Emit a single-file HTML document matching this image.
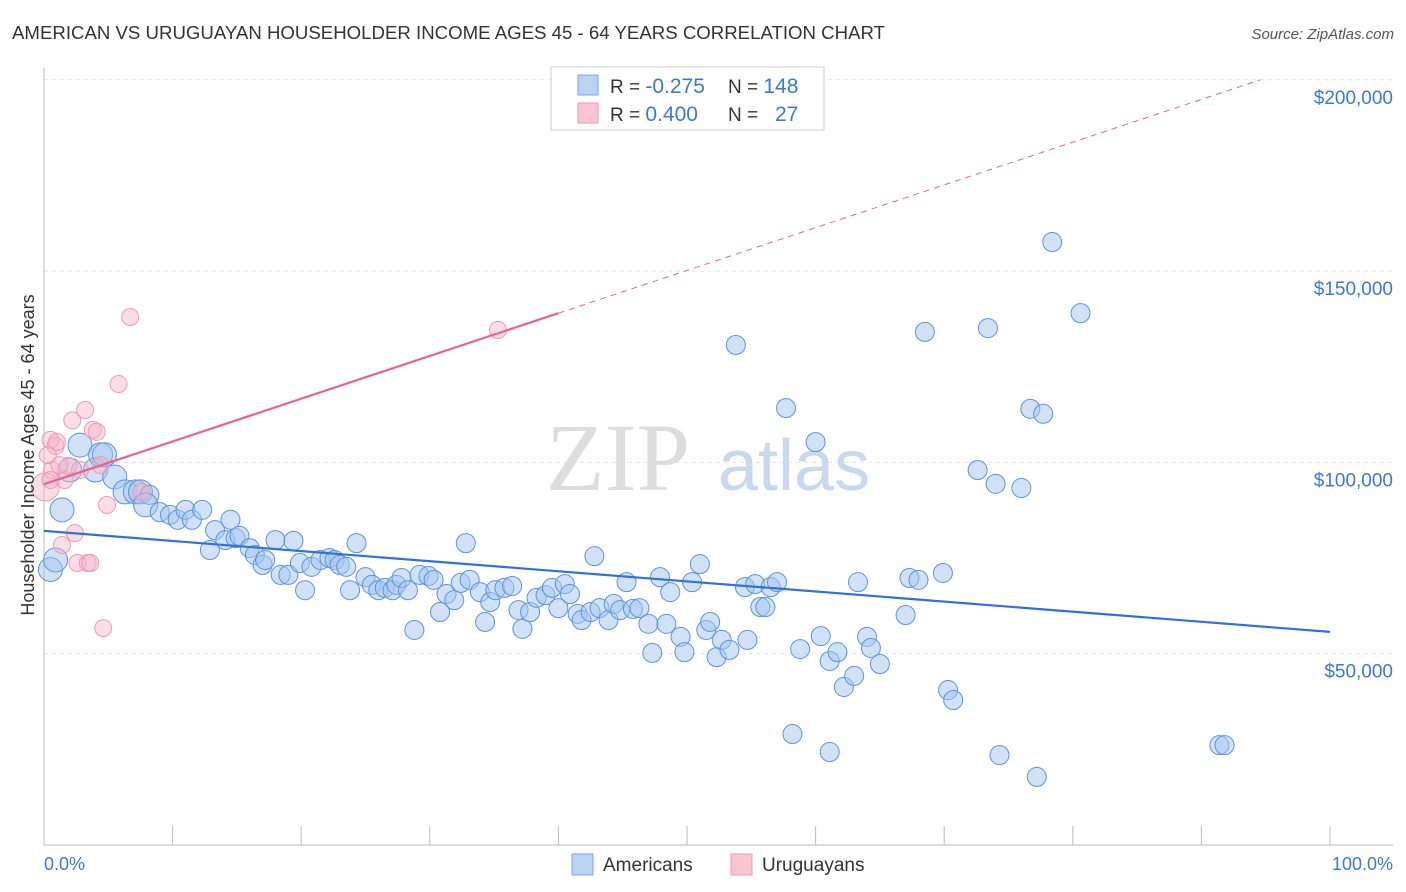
<!DOCTYPE html>
<html><head><meta charset="utf-8">
<style>
body{margin:0;background:#fff;font-family:"Liberation Sans",Arial,sans-serif;}
svg{display:block}
</style></head>
<body>
<svg id="chart" width="1406" height="892">
<text x="12" y="39" font-size="18" fill="#333" textLength="873" lengthAdjust="spacingAndGlyphs">AMERICAN VS URUGUAYAN HOUSEHOLDER INCOME AGES 45 - 64 YEARS CORRELATION CHART</text>
<text x="1394" y="39" font-size="15" fill="#555" font-style="italic" text-anchor="end">Source: ZipAtlas.com</text>
<g id="grid"></g>
<text x="690" y="490" font-size="96" fill="#ddd" font-family="Liberation Serif,serif" text-anchor="end">ZIP</text>
<text x="718" y="490" font-size="72" fill="#c8d8ee">atlas</text>
<g id="pts"></g>
<g id="lines"></g>
<text x="34" y="455" font-size="18" fill="#333" text-anchor="middle" transform="rotate(-90 34 455)">Householder Income Ages 45 - 64 years</text>
<text x="44" y="870" font-size="18" fill="#3a78d8">0.0%</text>
<text x="1393" y="870" font-size="18" fill="#3a78d8" text-anchor="end">100.0%</text>
<g>
<rect x="551" y="67" width="273" height="63" fill="#fff" stroke="#ccc"/>
<rect x="578" y="75" width="20" height="20" fill="#b9d3f5" stroke="#7aa6e6"/>
<rect x="578" y="103" width="20" height="20" fill="#f9c5d3" stroke="#ee9ab2"/>
<text x="610" y="93" font-size="19" fill="#333">R = <tspan fill="#3a78d8" font-size="21">-0.275</tspan><tspan x="728">N = </tspan><tspan fill="#3a78d8" font-size="21">148</tspan></text>
<text x="610" y="121" font-size="19" fill="#333">R = <tspan fill="#3a78d8" font-size="21">0.400</tspan><tspan x="728">N = </tspan><tspan x="775" fill="#3a78d8" font-size="21">27</tspan></text>
</g>
<g>
<rect x="572" y="854" width="21" height="21" fill="#b9d3f5" stroke="#7aa6e6"/>
<text x="603" y="871" font-size="19" fill="#333">Americans</text>
<rect x="731" y="854" width="21" height="21" fill="#f9c5d3" stroke="#ee9ab2"/>
<text x="762" y="871" font-size="19" fill="#333">Uruguayans</text>
</g>
</svg>
<script>
const yTicks=[50000,100000,150000,200000];
const yTickLabels=["$50,000","$100,000","$150,000","$200,000"];
const xTicks=[0,10,20,30,40,50,60,70,80,90,100];
const amX=[0.5,0.9,1.4,2.0,2.8,4.0,4.4,4.7,5.5,6.3,7.1,7.5,8.2,7.9,9.0,9.8,10.4,11.0,11.5,12.3,12.9,13.3,14.1,14.5,14.9,15.2,16.0,16.4,17.0,17.2,18.0,18.4,19.0,19.4,19.9,20.3,20.8,21.5,22.2,22.6,23.0,23.5,23.8,24.3,25.0,25.5,26.0,26.5,27.1,27.4,27.8,28.3,28.8,29.2,29.9,30.3,30.8,31.3,31.9,32.4,32.8,33.1,33.9,34.3,34.7,35.1,35.8,36.4,36.9,37.2,37.8,38.3,39.0,39.5,40.0,40.5,40.9,41.5,41.8,42.5,42.8,43.2,43.9,44.3,44.8,45.3,45.8,46.3,47.0,47.3,47.9,48.4,48.7,49.5,49.8,50.4,51.0,51.5,51.8,52.3,52.7,53.3,53.8,54.5,54.7,55.3,55.7,56.1,56.5,57.0,57.7,58.2,58.8,60.0,60.4,61.1,61.1,61.7,62.2,63.0,63.3,64.0,64.3,65.0,67.0,67.3,68.0,68.5,69.9,70.3,70.7,72.6,73.4,74.0,74.3,76.0,76.7,77.2,77.7,78.4,80.6,91.4,91.8];
const amY=[72,74.5,87.6,98,104.5,98,102,102,96.2,92.3,92.3,92.3,91.5,88.9,87,86.3,85,87.6,85,87.6,77.1,82.3,79.7,85,80.2,80.8,77.6,75.8,73.2,74.5,79.7,70.6,70.6,79.5,73.7,66.6,72.7,74.5,75,74.5,73.2,72.7,66.6,78.9,70,68,66.6,67.2,66.6,68,69.8,66.6,56.2,70.6,70.3,69.3,60.9,65.6,64,68.5,78.9,69.3,66.1,58.3,63.5,66.6,67.2,67.7,61.4,56.5,60.9,64.6,65.3,67.2,61.9,68.2,65.6,60.4,58.8,60.9,75.5,61.9,58.8,63,61.4,68.7,61.7,61.9,57.8,50.2,70,57.8,66.1,54.4,50.4,68.7,73.4,56.2,58.3,49.1,53.6,51,130.7,67.4,53.6,68.2,62.2,62.2,67.4,68.7,114.2,29,51.2,105.3,54.6,48.1,24.3,50.4,41.3,44.2,68.7,54.4,51.5,47.3,60.1,69.8,69.3,134.1,71.1,40.5,37.9,98,135.1,94.4,23.5,93.3,114,17.8,112.7,157.6,139,26.1,26.1];
const urX=[0.1,0.5,0.6,0.9,1.0,1.4,1.6,1.9,2.2,2.4,2.6,3.2,3.4,3.6,3.8,4.1,4.6,4.9,5.8,6.7,7.6,35.3,1.2,4.4,0.5,2.8,0.3];
const urY=[93.6,105.9,98,104.3,105.3,78.4,95.4,99.1,111,81.5,73.7,113.7,73.7,73.7,108.5,108,56.7,88.9,120.5,138,92.3,134.6,99.3,99.3,95.4,98,101.9];
const amTrend=[82.1,55.7];
const urTrend=[94.3,139.0];
const urSolidEnd=40;

const NS="http://www.w3.org/2000/svg";
const X=p=>44+p*12.86, Y=v=>845-v*0.003826;
const Yk=k=>Y(k*1000);
function mk(tag,at,parent){const e=document.createElementNS(NS,tag);for(const k in at)e.setAttribute(k,at[k]);parent.appendChild(e);return e;}
const grid=document.getElementById('grid'),pts=document.getElementById('pts'),lines=document.getElementById('lines');
yTicks.forEach((t,i)=>{
 const l=mk('line',{x1:44,x2:1393,y1:Y(t),y2:Y(t),stroke:'#e2e2e2','stroke-dasharray':'4,4'},grid);
 
 
 const tx=mk('text',{x:1393,y:Y(t)+24,'font-size':19,fill:'#3a78d8','text-anchor':'end'},grid);
 tx.textContent=yTickLabels[i];
 
 
});
const ax=mk('line',{x1:44,x2:44,y1:68,y2:845,stroke:'#bbb'},grid);


const bx=mk('line',{x1:44,x2:1393,y1:845,y2:845,stroke:'#bbb'},grid);


xTicks.forEach(t=>{
 const l=mk('line',{x1:X(t),x2:X(t),y1:826,y2:845,stroke:'#bbb'},grid);
 
 
});
amX.forEach((x,i)=>{
 const r=x<8?12:9.5;
 const c=mk('circle',{cx:X(x),cy:Yk(amY[i]),r:r,fill:'rgba(164,198,240,0.5)',stroke:'#5b93e0','stroke-width':1},pts);
 
 
});
urX.forEach((x,i)=>{
 const r=(x<0.2)?14:8.5;
 const c=mk('circle',{cx:X(x),cy:Yk(urY[i]),r:r,fill:'rgba(246,180,200,0.45)',stroke:'#ee9ab2','stroke-width':1},pts);
 
 
});
const bt=mk('line',{x1:X(0),y1:Yk(amTrend[0]),x2:X(100),y2:Yk(amTrend[1]),stroke:'#2f72d9','stroke-width':2.2},lines);


const slope=(urTrend[1]-urTrend[0])/urSolidEnd;
const pt=mk('line',{x1:X(0),y1:Yk(urTrend[0]),x2:X(urSolidEnd),y2:Yk(urTrend[1]),stroke:'#e8648e','stroke-width':2.2},lines);


let pEnd=(200-urTrend[0])/slope; if(pEnd>100)pEnd=100;
const pd=mk('line',{x1:X(urSolidEnd),y1:Yk(urTrend[1]),x2:X(pEnd),y2:Yk(urTrend[0]+slope*pEnd),stroke:'#e8648e','stroke-width':1,'stroke-dasharray':'6,5'},lines);


</script>
</body></html>
